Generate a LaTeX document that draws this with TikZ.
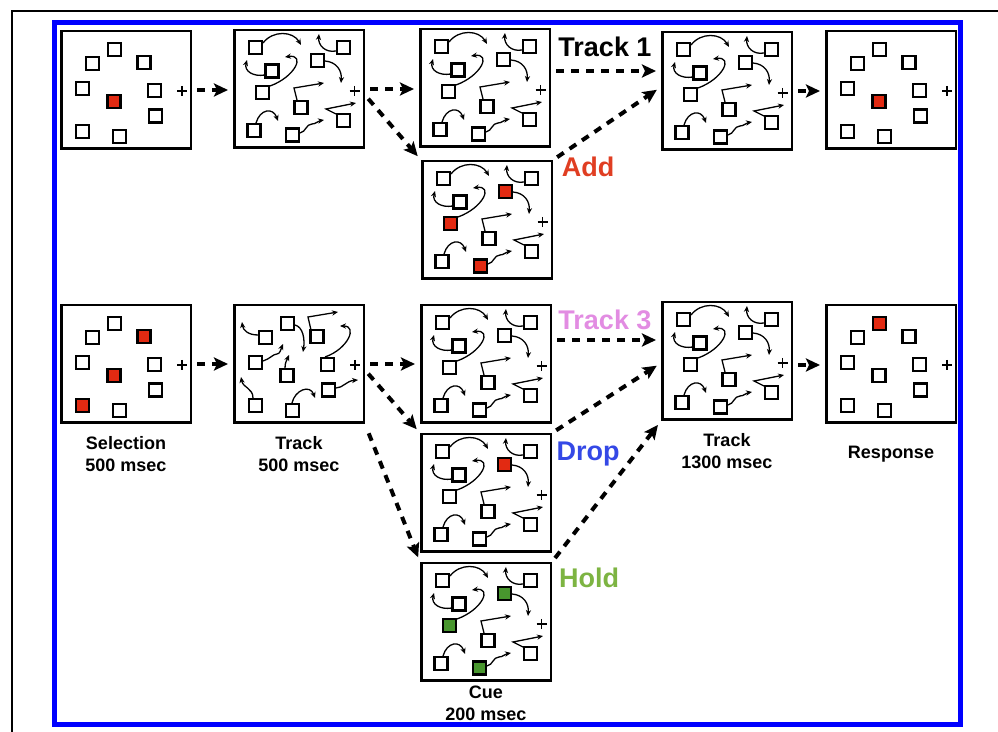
\documentclass[tikz,border=0pt]{standalone}
\usepackage{fontspec}
\setmainfont{Liberation Sans}
\usetikzlibrary{arrows.meta,positioning}

\definecolor{addred}{RGB}{224,62,34}
\definecolor{boxred}{RGB}{226,42,18}
\definecolor{trackpink}{RGB}{226,140,226}
\definecolor{dropblue}{RGB}{52,72,230}
\definecolor{holdgreen}{RGB}{125,180,66}
\definecolor{boxgreen}{RGB}{72,150,46}

% nine squares of a still frame, and the fixation cross
\newcommand{\stillfield}[1]{%
  \begin{scope}[shift={(#1.north west)}]
    \foreach \n/\x/\y in {1/54.5/19.5, 2/32.5/33.5, 3/84/32.5, 4/22.5/58.5,
                          5/54/71.5, 6/94.5/60.5, 7/95.5/86, 8/22.5/101.5, 9/59.5/106.5}
      \node[box] (#1-\n) at (\x,\y) {};
    \draw[fix] (117,61) -- (127,61) (122,56) -- (122,66);
  \end{scope}}

% first tracking frame: still squares with their paths
\newcommand{\startfield}[1]{%
  \begin{scope}[shift={(#1.north west)}]
    \draw[move] (25,31) .. controls (15,31) and (10,26) .. (9,18);
    \draw[move] (62,21) .. controls (70,23) and (72,35) .. (70,48);
    \draw[move] (78,26) -- (75,13) -- (105,8);
    \draw[move] (92,53) .. controls (115,45) and (125,22) .. (107,22);
    \draw[move] (30,57) .. controls (37,55) and (40,50) .. (44,50)
                        .. controls (47,50) and (48,45) .. (50,40);
    \draw[move] (52,64) .. controls (52,58) and (54,56) .. (56,51);
    \draw[move] (20,94) .. controls (20,84) and (10,84) .. (8,73);
    \draw[move] (59,99) .. controls (62,86) and (77,80) .. (82,94);
    \draw[move] (103,84) .. controls (110,84) and (113,77) .. (125,76);
  \end{scope}
  \stillfield{#1}}

% later tracking frames: moved squares with their paths
\newcommand{\trackfield}[1]{%
  \begin{scope}[shift={(#1.north west)}]
    \draw[move] (30,14) .. controls (40,1) and (60,2) .. (68,16);
    \draw[move] (32,46) .. controls (20,48) and (11,42) .. (14,31);
    \draw[move] (37,57) .. controls (62,48) and (73,25) .. (52,28);
    \draw[move] (92,32) .. controls (104,33) and (109,42) .. (108,54);
    \draw[move] (103,22) .. controls (92,24) and (85,16) .. (86,5);
    \draw[move] (64,71) -- (61,59) -- (91,54);
    \draw[move] (23,94) .. controls (27,80) and (40,78) .. (45,92);
    \draw[move] (67,104) .. controls (73,103) and (73,95) .. (79,95)
                         .. controls (83,95) and (85,92) .. (91,91);
    \draw[move] (103,85) -- (93,80) -- (123,74);
    \foreach \n/\x/\y in {1/22.5/18.5, 2/39/42, 3/29.5/63.5, 4/84.5/31.5,
                          5/110.5/18.5, 6/68/78.5, 7/21/101.5, 8/59.5/106, 9/110.5/91.5}
      \node[box] (#1-\n) at (\x,\y) {};
    \draw[fix] (116.5,62) -- (126.5,62) (121.5,57) -- (121.5,67);
  \end{scope}}

\begin{document}
\begin{tikzpicture}[
  x = 0.5pt, y = -0.5pt,
  panel/.style = {draw, line width = 1.25pt, minimum width = 64.75pt,
                  minimum height = 58.75pt, inner sep = 0pt, anchor = north west},
  box/.style = {draw, fill = white, line width = 1.2pt, minimum size = 6.5pt, inner sep = 0pt},
  fix/.style = {line width = 0.8pt},
  move/.style = {line width = 0.65pt, -{Stealth[length = 3pt, width = 2.6pt]}},
  flow/.style = {line width = 2pt, dash pattern = on 4pt off 3.5pt,
                 -{Stealth[length = 7pt, width = 6.5pt, inset = 1.5pt]},
                 shorten <= 2.5pt, shorten >= 2.5pt},
  cond/.style = {font = \bfseries\fontsize{13.5}{16}\selectfont, inner sep = 0pt, anchor = base},
  caption/.style = {font = \bfseries\fontsize{9}{11}\selectfont, align = center, inner sep = 1pt},
  ]
  \useasboundingbox (0,0) rectangle (998,732);
  \draw[line width = 1pt] (12,732) -- (12,11) -- (998,11);
  \draw[blue, line width = 2.5pt] (54,23) rectangle (960,725);

  % frames
  \node[panel] (sel1) at (60,30) {};
  \node[panel] (trk1) at (233,29) {};
  \node[panel] (one) at (419,28) {};
  \node[panel] (add) at (421,160) {};
  \node[panel] (long1) at (661,31) {};
  \node[panel] (resp1) at (825,30) {};
  \node[panel] (sel2) at (60,304) {};
  \node[panel] (trk2) at (233,304) {};
  \node[panel] (three) at (420,304) {};
  \node[panel] (drop) at (420,433) {};
  \node[panel] (hold) at (420,562) {};
  \node[panel] (long2) at (661,301) {};
  \node[panel] (resp2) at (825,304) {};

  \stillfield{sel1}
  \trackfield{trk1}
  \trackfield{one}
  \trackfield{add}
  \trackfield{long1}
  \stillfield{resp1}
  \stillfield{sel2}
  \startfield{trk2}
  \trackfield{three}
  \trackfield{drop}
  \trackfield{hold}
  \trackfield{long2}
  \stillfield{resp2}

  % targets
  \node[box, fill = boxred] (sel1-r) at (sel1-5) {};
  \foreach \k in {3,4,8}
    \node[box, fill = boxred] (add-r\k) at (add-\k) {};
  \node[box, fill = boxred] (resp1-r) at (resp1-5) {};
  \foreach \k in {3,5,8}
    \node[box, fill = boxred] (sel2-r\k) at (sel2-\k) {};
  \node[box, fill = boxred] (drop-r) at (drop-4) {};
  \foreach \k in {3,4,8}
    \node[box, fill = boxgreen] (hold-g\k) at (hold-\k) {};
  \node[box, fill = boxred] (resp2-r) at (resp2-1) {};

  % sequence
  \draw[flow] (sel1.east) -- (sel1.east -| trk1.west);
  \draw[flow] (trk1.east) -- (trk1.east -| one.west);
  \draw[flow] ([yshift = -3pt]trk1.east) -- (add.north west);
  \draw[flow] ([yshift = 8.5pt]one.east) -- ([yshift = 8.5pt]one.east -| long1.west);
  \draw[flow] (add.north east) -- ([yshift = 2pt]long1.west);
  \draw[flow] (long1.east) -- (long1.east -| resp1.west);
  \draw[flow] (sel2.east) -- (sel2.east -| trk2.west);
  \draw[flow] (trk2.east) -- (trk2.east -| three.west);
  \draw[flow] ([yshift = -3pt]trk2.east) -- (drop.north west);
  \draw[flow, shorten <= 5pt] (trk2.south east) -- (hold.north west);
  \draw[flow] ([yshift = 12pt]three.east) -- ([yshift = 12pt]three.east -| long2.west);
  \draw[flow] (drop.north east) -- ([yshift = -1pt]long2.west);
  \draw[flow] (hold.north east) -- (long2.south west);
  \draw[flow] ([yshift = -2pt]long2.east) -- ([yshift = -2pt]long2.east -| resp2.west);

  % conditions
  \node[cond] (t1) at (605,57) {Track 1};
  \node[cond, text = addred] (ad) at (588,177) {Add};
  \node[cond, text = trackpink] (t3) at (605,330) {Track 3};
  \node[cond, text = dropblue] (dr) at (588,461) {Drop};
  \node[cond, text = holdgreen] (hd) at (589,588) {Hold};

  % timing
  \node[caption, below = 5pt of sel2] (selcap) {Selection\\500 msec};
  \node[caption, below = 5pt of trk2] (trkcap) {Track\\500 msec};
  \node[caption, below = 5pt of long2] (longcap) {Track\\1300 msec};
  \node[caption] (respcap) at (resp2.south |- trkcap) {Response};
  \node[caption, below = 1pt of hold] (cuecap) {Cue\\200 msec};
\end{tikzpicture}
\end{document}
